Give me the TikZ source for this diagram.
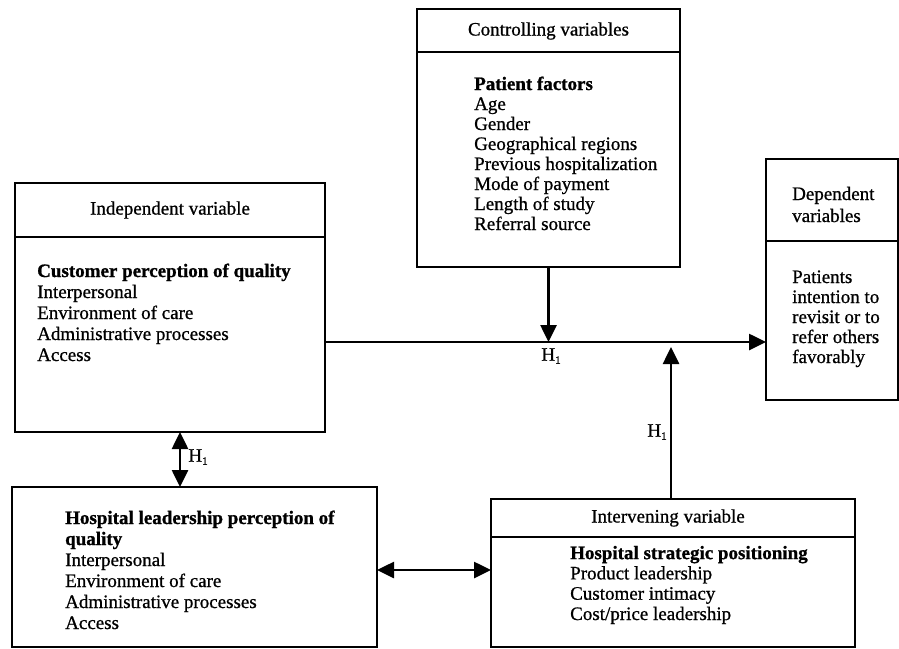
\documentclass[tikz,border=0pt]{standalone}
\usepackage{fontspec}
\setmainfont{Liberation Serif}[UprightFeatures={FakeBold=0.8},BoldFeatures={FakeBold=1}]
\usetikzlibrary{arrows.meta}
\tikzset{
  boxline/.style={draw=black, line width=2.6pt},
  ttl/.style={inner sep=0pt, font=\fontsize{19}{21}\selectfont},
  body/.style={inner sep=0pt, anchor=base west, align=left},
  arr/.style={line width=2.6pt, -{Triangle[length=17pt,width=16pt]}},
  darr/.style={line width=2.6pt, {Triangle[length=17pt,width=16pt]}-{Triangle[length=17pt,width=16pt]}},
  hlab/.style={inner sep=0pt, font=\fontsize{19}{21}\selectfont}
}
\newcommand{\Hone}{H\raisebox{-0.35ex}{\fontsize{11}{11}\selectfont 1}}
\begin{document}
\begin{tikzpicture}[x=1pt,y=-1pt]
\useasboundingbox (0,0) rectangle (899,648);
\fill[white] (0,0) rectangle (899,648);

% Controlling variables (last baseline given)
\draw[boxline] (417,9) rectangle (680,267);
\draw[boxline] (417,52) -- (680,52);
\node[ttl] (ctrlT) at (548.5,31) {Controlling variables};
\node[body, font=\fontsize{19}{20}\selectfont] (ctrlB) at (474,230)
  {\textbf{Patient factors}\\Age\\Gender\\Geographical regions\\Previous hospitalization\\Mode of payment\\Length of study\\Referral source};
\coordinate (ctrlS) at (548.5,267);

% Independent variable
\draw[boxline] (15,183) rectangle (325,432);
\draw[boxline] (15,237) -- (325,237);
\node[ttl] (indT) at (170,210) {Independent variable};
\node[body, font=\fontsize{19}{21}\selectfont] (indB) at (37,361)
  {\textbf{Customer perception of quality}\\Interpersonal\\Environment of care\\Administrative processes\\Access};
\coordinate (indR) at (325,342);
\coordinate (indS) at (180,432);

% Dependent variables
\draw[boxline] (766,159) rectangle (898,400);
\draw[boxline] (766,241) -- (898,241);
\node[body, font=\fontsize{19}{22}\selectfont] (depT) at (792,222) {Dependent\\variables};
\node[body, font=\fontsize{19}{20}\selectfont] (depB) at (792,363)
  {Patients\\intention to\\revisit or to\\refer others\\favorably};
\coordinate (depL) at (766,342);

% Hospital leadership
\draw[boxline] (12,487) rectangle (377,647);
\node[body, font=\fontsize{19}{21}\selectfont] (hospB) at (65,629)
  {\textbf{Hospital leadership perception of}\\\textbf{quality}\\Interpersonal\\Environment of care\\Administrative processes\\Access};
\coordinate (hospN) at (180,487);
\coordinate (hospR) at (377,570);

% Intervening variable
\draw[boxline] (491,499) rectangle (855,647);
\draw[boxline] (491,537) -- (855,537);
\node[ttl] (intT) at (668,518) {Intervening variable};
\node[body, font=\fontsize{19}{20.3}\selectfont] (intB) at (570,620)
  {\textbf{Hospital strategic positioning}\\Product leadership\\Customer intimacy\\Cost/price leadership};
\coordinate (intN) at (671,499);
\coordinate (intL) at (491,570);

% connectors
\coordinate (meet1) at (548.5,342);
\coordinate (meet2) at (671,347);
\draw[arr] (indR) -- (depL);
\draw[arr] (ctrlS) -- (meet1);
\draw[arr] (intN) -- (meet2);
\draw[darr] (indS) -- (hospN);
\draw[darr] (hospR) -- (intL);

% labels
\node[hlab] (h1) at (551,356) {\Hone};
\node[hlab] (h2) at (657,432) {\Hone};
\node[hlab] (h3) at (198,457) {\Hone};
\end{tikzpicture}
\end{document}
